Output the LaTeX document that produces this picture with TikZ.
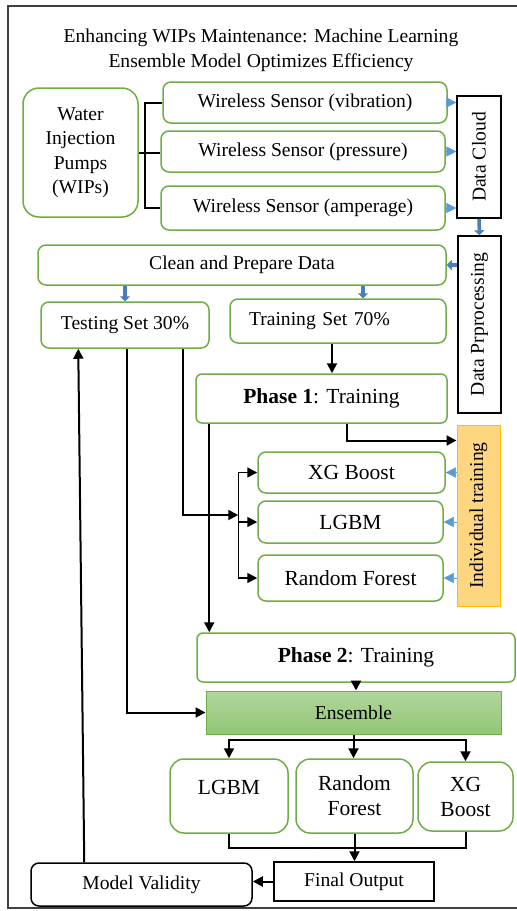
\documentclass[tikz,border=0pt]{standalone}
\usepackage{fontspec}
\setmainfont{Liberation Serif}
\usepackage{graphicx}
\usetikzlibrary{arrows.meta}

\definecolor{boxgreen}{RGB}{112,173,71}
\definecolor{tipblue}{RGB}{91,155,213}
\definecolor{flowblue}{RGB}{74,126,187}
\definecolor{enstop}{RGB}{178,214,158}
\definecolor{ensbot}{RGB}{146,198,116}
\definecolor{indfill}{RGB}{255,214,128}
\definecolor{indline}{RGB}{255,192,0}
\definecolor{framegray}{RGB}{64,64,64}

\begin{document}
\begin{tikzpicture}[x=1pt, y=-1pt, >={Triangle[length=10pt,width=10pt]},
    gbox/.style={draw=boxgreen, line width=1.5pt, rounded corners=8pt, align=center, inner sep=0pt, font=\fontsize{19.6}{24.5}\selectfont},
    kbox/.style={draw=black, line width=1.5pt, align=center, inner sep=0pt, font=\fontsize{19.6}{24.5}\selectfont},
    big/.style={font=\fontsize{21.5}{25}\selectfont},
    link/.style={line width=2pt, black},
    feed/.style={draw=tipblue, fill=tipblue, line width=0.5pt, -{Triangle[length=10pt,width=10pt]}},
    pipe/.style={flowblue, line width=3.5pt, -{Triangle[length=5pt,width=10pt]}}]
    \useasboundingbox (0,0) rectangle (517,911);

    % Frame and title
    \draw[framegray, line width=1.5pt] (517,6) -- (8,6) -- (8,908) -- (517,908);
    \node[align=center, font=\fontsize{19.6}{25}\selectfont] (title) at (261,50.5)
        {Enhancing WIPs Maintenance: Machine Learning\\Ensemble Model Optimizes Efficiency};

    % Pumps and sensors
    \node[gbox, rounded corners=16pt, minimum width=115pt, minimum height=129pt] (wips) at (80.5,152.5) {Water\\Injection\\Pumps\\(WIPs)};
    \node[gbox, minimum width=284pt, minimum height=41pt] (vib) at (305,102.5) {Wireless Sensor (vibration)};
    \node[gbox, minimum width=284pt, minimum height=41pt] (pres) at (303,151.5) {Wireless Sensor (pressure)};
    \node[gbox, minimum width=284pt, minimum height=44pt] (amp) at (303,208) {Wireless Sensor (amperage)};
    \draw[link] (vib.west) -- ++(-17,0) |- (amp.west);
    \draw[link] (wips.east) -- (wips.east -| pres.west);

    % Cloud and processing
    \node[kbox, minimum width=44pt, minimum height=122pt] (cloud) at (479,157) {\rotatebox{90}{Data Cloud}};
    \node[kbox, minimum width=43pt, minimum height=177pt] (proc) at (479.5,324.5) {\rotatebox{90}{Data Prprocessing}};
    \foreach \s in {vib,pres,amp}
        \draw[feed] (\s.east) -- (\s.east -| cloud.west);
    \draw[pipe] (cloud.south) -- (proc.north);

    % Data split
    \node[gbox, minimum width=408pt, minimum height=40pt] (clean) at (242,265) {Clean and Prepare Data};
    \node[gbox, minimum width=168pt, minimum height=46pt] (test) at (125,325) {Testing Set 30\%};
    \node[gbox, inner xsep=19pt, text width=178pt, align=left, minimum height=44pt] (train) at (338,321) {Training Set 70\%};
    \coordinate (trin) at ([xshift=25pt]train.north);
    \draw[pipe] (clean.east -| proc.west) -- (clean.east);
    \draw[pipe] (test.north |- clean.south) -- (test.north);
    \draw[pipe] (trin |- clean.south) -- (trin);

    % Phase 1
    \node[gbox, big, rounded corners=6pt, minimum width=251pt, minimum height=49pt] (ph1) at (321.5,398.5) {\textbf{Phase 1}: Training};
    \coordinate (trout) at ([xshift=-6pt]train.south);
    \draw[link,->] (trout) -- (trout |- ph1.north);
    \node[draw=indline, fill=indfill, line width=1pt, inner sep=0pt, minimum width=43pt, minimum height=181pt,
        font=\fontsize{19.6}{24.5}\selectfont] (indiv) at (478.5,515.5) {\rotatebox{90}{Individual training}};
    \draw[link,->] ([xshift=25.5pt]ph1.south) |- ([yshift=-16pt]indiv.north west);

    % Individual models
    \node[gbox, big, minimum width=187pt, minimum height=41pt] (xgb) at (351.5,472.5) {XG Boost};
    \node[gbox, big, minimum width=185pt, minimum height=42pt] (lgbm) at (350.5,522) {LGBM};
    \node[gbox, big, minimum width=185pt, minimum height=46pt] (rf) at (350.5,578) {Random Forest};
    \foreach \m in {xgb,lgbm,rf} {
        \draw[feed] (\m.east -| indiv.west) -- (\m.east);
        \draw[link, line width=1.5pt, ->] ([xshift=-19pt]\m.west) -- (\m.west);
    }
    \draw[link, line width=1.5pt] ([xshift=-19pt]xgb.west) -- ([xshift=-19pt]rf.west);
    \coordinate (split) at ([xshift=-19pt,yshift=7pt]lgbm.west);
    \draw[link,->] ([xshift=58pt]test.south) |- (split);

    % Phase 2 and ensemble
    \node[gbox, big, rounded corners=6pt, minimum width=318pt, minimum height=49pt] (ph2) at (356,657.5) {\textbf{Phase 2}: Training};
    \coordinate (ph1out) at ([xshift=14pt]ph1.south west);
    \draw[link,->] (ph1out) -- (ph1out |- ph2.north);
    \node[draw=boxgreen, line width=1pt, top color=enstop, bottom color=ensbot, inner sep=0pt,
        minimum width=295pt, minimum height=43pt, font=\fontsize{19.6}{24.5}\selectfont] (ens) at (353.5,712.5) {Ensemble};
    \draw[link,->] (ph2.south) -- (ph2.south |- ens.north);
    \draw[link,->] ([xshift=2pt]test.south) |- (ens.west);

    % Ensemble outputs
    \node[gbox, big, rounded corners=14pt, text depth=18pt, minimum width=118pt, minimum height=74pt] (lgbm2) at (229,796) {LGBM};
    \node[gbox, big, rounded corners=14pt, minimum width=117pt, minimum height=74pt] (rf2) at (354.5,796) {Random\\Forest};
    \node[gbox, big, rounded corners=14pt, minimum width=95pt, minimum height=69pt] (xgb2) at (465.5,796.5) {XG\\Boost};
    \draw[link] (ens.south) -- ++(0,5) coordinate (fan);
    \draw[link,->] (fan) -| (lgbm2.north);
    \draw[link,->] (fan) -| (xgb2.north);
    \draw[link,->] (fan) -- (fan |- rf2.north);
    \draw[link] (lgbm2.south) -- ++(0,14) -| (xgb2.south);

    % Output and validity
    \node[kbox, minimum width=160pt, minimum height=39pt] (final) at (354,881.5) {Final Output};
    \node[kbox, rounded corners=8pt, minimum width=221pt, minimum height=43pt] (valid) at (141.5,884.5) {Model Validity};
    \draw[link,->] (rf2.south) -- (rf2.south |- final.north);
    \draw[link,->] (final.west) -- (final.west -| valid.east);
    \draw[link,->] ([xshift=54pt]valid.north west) -- ([xshift=38pt]test.south west);
\end{tikzpicture}
\end{document}
